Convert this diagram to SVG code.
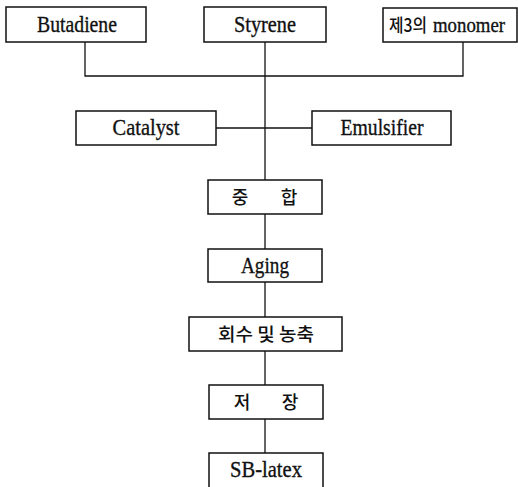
<svg xmlns="http://www.w3.org/2000/svg" width="518" height="487" viewBox="0 0 518 487">
  <style>
    .box { fill: #fff; stroke: #111; stroke-width: 1.5; }
    .lbl { font-family: "Liberation Serif", "Times New Roman", "DejaVu Serif", serif; font-size: 23px; fill: #111; text-anchor: middle; stroke: #111; stroke-width: 0.35; }
    .ko { font-family: "Noto Sans CJK KR", sans-serif; font-size: 18px; font-weight: 500; fill: #111; text-anchor: middle; }
    .wire { fill: none; stroke: #111; stroke-width: 1.3; }
  </style>
  <rect width="518" height="487" fill="#fff"/>

  <g id="connectors">
    <path class="wire" d="M85 42 V76 H463 V42"/>
    <path class="wire" d="M265 42 V180"/>
    <path class="wire" d="M216 128 H312"/>
    <path class="wire" d="M265 214 V249"/>
    <path class="wire" d="M265 282 V317"/>
    <path class="wire" d="M265 351 V385"/>
    <path class="wire" d="M265 419 V453"/>
  </g>

  <g id="butadiene">
    <rect class="box" x="6" y="7" width="140" height="35"/>
    <text class="lbl" x="77" y="32" textLength="80" lengthAdjust="spacingAndGlyphs">Butadiene</text>
  </g>
  <g id="styrene">
    <rect class="box" x="204" y="7" width="122" height="35"/>
    <text class="lbl" x="265" y="32" textLength="62" lengthAdjust="spacingAndGlyphs">Styrene</text>
  </g>
  <g id="third-monomer">
    <rect class="box" x="383" y="8" width="134" height="34"/>
    <text class="ko" x="408" y="32" textLength="38" lengthAdjust="spacingAndGlyphs">제3의</text>
    <text class="lbl" x="469" y="32" style="font-size:21px" textLength="72" lengthAdjust="spacingAndGlyphs">monomer</text>
  </g>
  <g id="catalyst">
    <rect class="box" x="76" y="111" width="140" height="34"/>
    <text class="lbl" x="146" y="135" textLength="67" lengthAdjust="spacingAndGlyphs">Catalyst</text>
  </g>
  <g id="emulsifier">
    <rect class="box" x="312" y="111" width="139" height="34"/>
    <text class="lbl" x="382" y="135" textLength="83" lengthAdjust="spacingAndGlyphs">Emulsifier</text>
  </g>
  <g id="polymerization">
    <rect class="box" x="208" y="180" width="114" height="34"/>
    <text class="ko" x="240" y="204">중</text>
    <text class="ko" x="289" y="204">합</text>
  </g>
  <g id="aging">
    <rect class="box" x="208" y="249" width="114" height="33"/>
    <text class="lbl" x="265" y="273" textLength="48" lengthAdjust="spacingAndGlyphs">Aging</text>
  </g>
  <g id="recovery">
    <rect class="box" x="189" y="317" width="153" height="34"/>
    <text class="ko" x="266" y="341" textLength="96" lengthAdjust="spacingAndGlyphs">회수 및 농축</text>
  </g>
  <g id="storage">
    <rect class="box" x="209" y="385" width="114" height="34"/>
    <text class="ko" x="242" y="409">저</text>
    <text class="ko" x="290" y="409">장</text>
  </g>
  <g id="sb-latex">
    <rect class="box" x="209" y="453" width="114" height="36"/>
    <text class="lbl" x="266" y="477" textLength="72" lengthAdjust="spacingAndGlyphs">SB-latex</text>
  </g>
</svg>
